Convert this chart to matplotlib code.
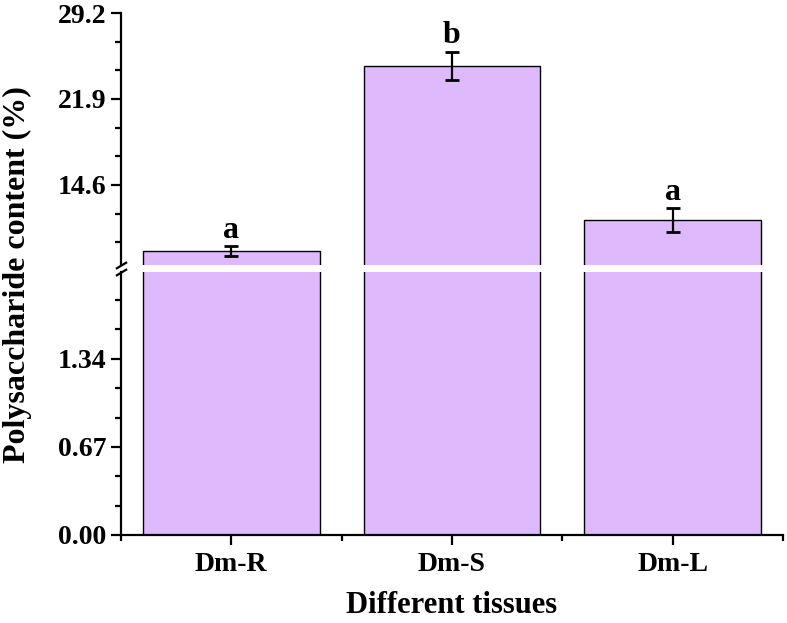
import matplotlib
matplotlib.use("Agg")
import matplotlib.pyplot as plt
from matplotlib.ticker import FixedLocator

# ---- data ----
tissues = ["Dm-R", "Dm-S", "Dm-L"]
content = [9.0, 24.7, 11.6]
errors = [0.42, 1.23, 1.02]
letters = ["a", "b", "a"]

upper_ticks = [14.6, 21.9, 29.2]
lower_ticks = [0.00, 0.67, 1.34]

bar_color = "#DEB9FC"

plt.rcParams["font.family"] = ["Liberation Serif", "DejaVu Serif"]
plt.rcParams["font.weight"] = "bold"

fig = plt.figure(figsize=(7.87, 6.23), dpi=100)
ax_top = fig.add_axes([0.1537, 0.5746, 0.8412, 0.4045])
ax_bot = fig.add_axes([0.1537, 0.1413, 0.8412, 0.4221])

x = list(range(len(tissues)))
for ax in (ax_top, ax_bot):
    ax.bar(x, content, width=0.8, color=bar_color, edgecolor="black", linewidth=1.0)
    ax.errorbar(x, content, yerr=errors, fmt="none", ecolor="black",
                elinewidth=1.6, capsize=5, capthick=2)
    ax.set_xlim(-0.5, 2.5)
    ax.spines["top"].set_visible(False)
    ax.spines["right"].set_visible(False)
    ax.spines["left"].set_linewidth(1.6)
    ax.tick_params(axis="y", which="major", direction="out", length=7, width=1.6,
                   labelsize=20)
    ax.tick_params(axis="y", which="minor", direction="out", length=4, width=1.6)

# upper part
ax_top.set_ylim(7.8, 29.2)
ax_top.yaxis.set_major_locator(FixedLocator(upper_ticks))
step = 7.3 / 3
ax_top.yaxis.set_minor_locator(FixedLocator(
    [7.3 + step * i for i in range(1, 10) if i % 3 != 0]))
ax_top.set_yticklabels([f"{t:.1f}" for t in upper_ticks], fontsize=20)
ax_top.spines["bottom"].set_visible(False)
ax_top.tick_params(axis="x", which="both", bottom=False, labelbottom=False)

for xi, v, e, s in zip(x, content, errors, letters):
    ax_top.annotate(s, (xi, v + e), xytext=(0, 6), textcoords="offset points",
                    ha="center", va="baseline", fontsize=23, fontweight="bold")

# lower part
ax_bot.set_ylim(0, 2.0)
ax_bot.yaxis.set_major_locator(FixedLocator(lower_ticks))
lstep = 0.67 / 3
ax_bot.yaxis.set_minor_locator(FixedLocator(
    [lstep * i for i in range(1, 9) if i % 3 != 0]))
ax_bot.set_yticklabels([f"{t:.2f}" for t in lower_ticks], fontsize=20)
ax_bot.spines["bottom"].set_linewidth(1.6)
ax_bot.set_xticks(x)
ax_bot.set_xticklabels(tissues, fontsize=20, fontweight="bold")
ax_bot.xaxis.set_minor_locator(FixedLocator([-0.5, 0.5, 1.5, 2.5]))
ax_bot.tick_params(axis="x", which="major", direction="out", length=7, width=1.6, pad=5)
ax_bot.tick_params(axis="x", which="minor", direction="out", length=4, width=1.6)
ax_bot.set_xlabel("Different tissues", fontsize=22, fontweight="bold", labelpad=10)

# break marks on the y axis
kw = dict(marker=[(-1, -0.6), (1, 0.6)], markersize=8, linestyle="none",
          color="black", mec="black", mew=1.6, clip_on=False)
ax_top.plot([0], [0], transform=ax_top.transAxes, **kw)
ax_bot.plot([0], [1], transform=ax_bot.transAxes, **kw)

fig.text(0.022, 0.56, "Polysaccharide content (%)", rotation=90, ha="center",
         va="center", fontsize=23, fontweight="bold")

fig.savefig("out.png", dpi=100)
